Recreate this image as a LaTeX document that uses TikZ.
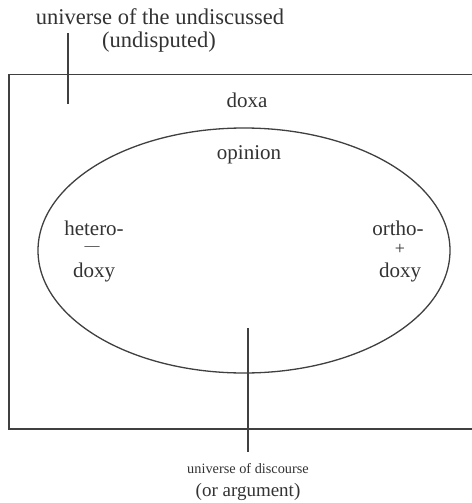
\documentclass[tikz,border=0pt]{standalone}
\usepackage{fontspec}
\setmainfont{Liberation Serif}
\begin{document}
\begin{tikzpicture}[x=1pt,y=-1pt,
  top/.style={inner sep=0pt,text=black!80,font=\fontsize{22.5}{26}\selectfont},
  lbl/.style={inner sep=0pt,text=black!80,font=\fontsize{21}{24}\selectfont},
  sym/.style={inner sep=0pt,text=black!80,font=\fontsize{15}{17}\selectfont},
  psym/.style={inner sep=0pt,text=black!80,font=\fontsize{18}{20}\selectfont},
  small/.style={inner sep=0pt,text=black!80,font=\fontsize{14.3}{17}\selectfont},
  mid/.style={inner sep=0pt,text=black!80,font=\fontsize{19}{22}\selectfont},
  frame/.style={draw=black!75,line width=1.8pt},
  oval/.style={draw=black!75,line width=1.3pt},
  conn/.style={draw=black!75,line width=1.1pt}]
\useasboundingbox (0,0) rectangle (471,503);
\fill[white] (0,0) rectangle (471,503);
% frame (open to the right, running past the edge)
\draw[frame] (480,74.5) -- (9,74.5) -- (9,429) -- (480,429);
% ellipse
\draw[oval] (244,250.5) ellipse [x radius=206pt, y radius=122.5pt];
% labels
\node[top] (und) at (160,17) {universe of the undiscussed};
\node[top] (undp) at (159,42) {(undisputed)};
\node[lbl] (doxa) at (247,100) {doxa};
\node[lbl] (opin) at (249,155) {opinion};
\node[lbl] (het) at (94,228) {hetero-};
\node[sym] (minus) at (92,249) {—};
\node[lbl] (hdoxy) at (94,272) {doxy};
\node[lbl] (orth) at (398,228) {ortho-};
\node[psym] (plus) at (400,249) {+};
\node[lbl] (odoxy) at (400,272) {doxy};
\node[small] (disc) at (248,469) {universe of discourse};
\node[mid] (arg) at (248,492) {(or argument)};
% connectors
\coordinate (t1) at (68,33);
\coordinate (t2) at (68,104);
\draw[conn] (t1) -- (t2);
\coordinate (b1) at (248,328);
\coordinate (b2) at (248,452);
\draw[conn] (b1) -- (b2);
\end{tikzpicture}
\end{document}
